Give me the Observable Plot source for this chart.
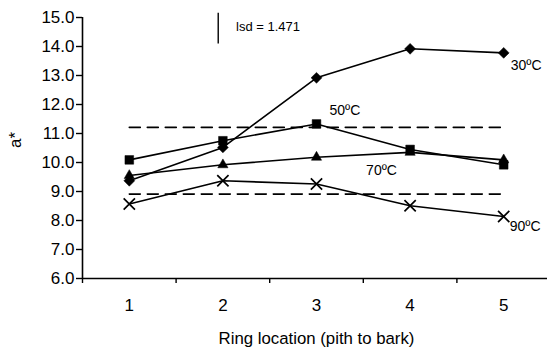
<!DOCTYPE html>
<html>
<head>
<meta charset="utf-8">
<script src="https://cdn.jsdelivr.net/npm/d3@7"></script>
<script src="https://cdn.jsdelivr.net/npm/@observablehq/plot@0.6"></script>
<style>
  html, body { margin: 0; padding: 0; background: #fff; }
  svg { overflow: visible; }
</style>
</head>
<body>
<div id="chart"></div>
<script>
const categories = [1, 2, 3, 4, 5];
const seriesNames = ["30ºC", "50ºC", "70ºC", "90ºC"];
const c30 = [9.37, 10.52, 12.92, 13.92, 13.78];
const c50 = [10.09, 10.75, 11.33, 10.45, 9.92];
const c70 = [9.55, 9.92, 10.18, 10.35, 10.09];
const c90 = [8.57, 9.37, 9.26, 8.51, 8.14];
const dashedLevels = [11.21, 8.91];
const yTicks = [6, 7, 8, 9, 10, 11, 12, 13, 14, 15];
const lsdText = "lsd = 1.471";

const seriesValues = [c30, c50, c70, c90];
const symbols = ["diamond2", "square", "triangle", "times"];
const radii = [4.9, 4.9, 3.8, 5.2];
const rows = seriesNames.flatMap((s, i) =>
  categories.map((c, j) => ({series: s, x: c, y: seriesValues[i][j]})));
const dashRows = dashedLevels.flatMap(v => [{x: categories[0], y: v, lvl: v}, {x: categories[categories.length - 1], y: v, lvl: v}]);
const last = (arr) => arr[arr.length - 1];

const font = "'Liberation Sans', Arial, sans-serif";

const chart = Plot.plot({
  width: 547,
  height: 354,
  marginLeft: 82,
  marginRight: 0,
  marginTop: 17,
  marginBottom: 76,
  style: {fontFamily: font, background: "#fff", color: "#000"},
  x: {domain: [0.5, 5.5], range: [82, 550]},
  y: {domain: [6, 15], range: [278, 17]},
  marks: [
    Plot.line(dashRows, {x: "x", y: "y", z: "lvl", stroke: "#000", strokeWidth: 1.6, strokeDasharray: "11,7"}),
    Plot.ruleX([0.5], {y1: 6, y2: 15, stroke: "#000", strokeWidth: 1.6}),
    Plot.ruleY([6], {x1: 0.5, x2: 5.5, stroke: "#000", strokeWidth: 1.6}),
    Plot.axisY({ticks: yTicks, tickFormat: d3.format(".1f"), tickSize: 6, tickPadding: 2, label: null,
      fontSize: 17, stroke: "#000", strokeWidth: 1.4, style: {letterSpacing: "1.2px"}}),
    Plot.axisX({ticks: [0.5, 1.5, 2.5, 3.5, 4.5], tickFormat: () => "", tickSize: 5, label: null, strokeWidth: 1.4}),
    Plot.axisX({ticks: categories, tickFormat: d => String(d), tickSize: 0, tickPadding: 20, fontSize: 17, label: null}),
    Plot.line(rows, {x: "x", y: "y", z: "series", stroke: "#000", strokeWidth: 1.6}),
    ...seriesNames.map((s, i) =>
      Plot.dot(rows.filter(d => d.series === s), {
        x: "x", y: "y", symbol: () => symbols[i], r: radii[i],
        fill: symbols[i] === "times" ? "none" : "#000",
        stroke: "#000", strokeWidth: symbols[i] === "times" ? 1.7 : 0.5
      })),
    Plot.text([seriesNames[0]], {x: categories[4], y: last(c30), dx: 7, dy: 13, textAnchor: "start", fontSize: 14}),
    Plot.text([seriesNames[1]], {x: categories[2], y: c50[2], dx: 13, dy: -13, textAnchor: "start", fontSize: 14}),
    Plot.text([seriesNames[2]], {x: categories[3], y: c70[3], dx: -44, dy: 18, textAnchor: "start", fontSize: 14}),
    Plot.text([seriesNames[3]], {x: categories[4], y: last(c90), dx: 6, dy: 10, textAnchor: "start", fontSize: 14}),
    Plot.ruleX([1.95], {y1: 15.15, y2: 14.09, stroke: "#000", strokeWidth: 1.4}),
    Plot.text([lsdText], {x: 2.14, y: 14.67, textAnchor: "start", fontSize: 13}),
    Plot.text(["a*"], {frameAnchor: "left", rotate: -90, dx: -67, dy: 0, fontSize: 17}),
    Plot.text(["Ring location (pith to bark)"], {frameAnchor: "bottom", dx: 1.5, dy: 65, fontSize: 16.8})
  ]
});
document.getElementById("chart").appendChild(chart);
</script>
</body>
</html>
